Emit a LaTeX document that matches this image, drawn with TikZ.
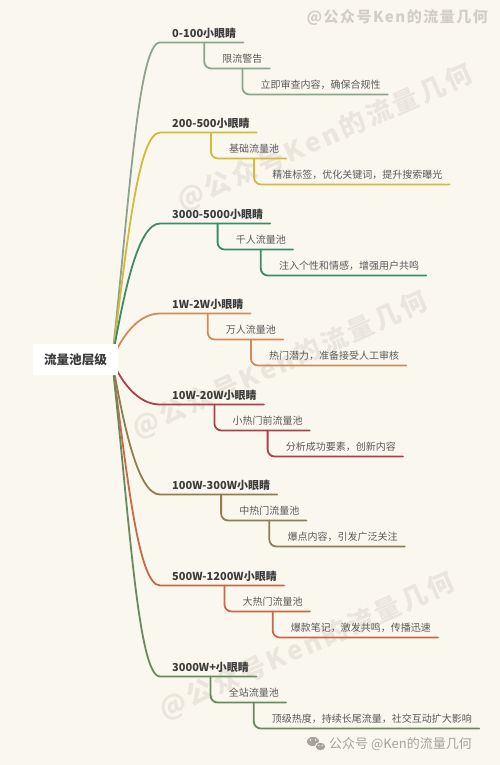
\documentclass[tikz,border=0pt]{standalone}
\usepackage{fontspec}
\setmainfont{Noto Sans CJK SC}
\usetikzlibrary{calc}
\pgfdeclarelayer{wm}
\pgfdeclarelayer{bg}
\pgfsetlayers{wm,bg,main}

\definecolor{bgc}{HTML}{FAF7EE}
\definecolor{cA}{HTML}{8DA58A}
\definecolor{cB}{HTML}{D6B93C}
\definecolor{cC}{HTML}{3F8A68}
\definecolor{cD}{HTML}{CF8C58}
\definecolor{cE}{HTML}{A8434B}
\definecolor{cF}{HTML}{8E7F4F}
\definecolor{cG}{HTML}{C76847}
\definecolor{cH}{HTML}{6A8A5D}
\definecolor{toptext}{HTML}{3C3C3C}
\definecolor{subtext}{HTML}{5A5A5A}
\definecolor{wmfaint}{HTML}{EAE6DD}
\definecolor{wmtop}{HTML}{D3CFC7}
\definecolor{wmbottom}{HTML}{A7A39C}

\tikzset{
  lvlone/.style={font=\fontsize{11}{13}\selectfont\bfseries, text=toptext, inner sep=0pt, anchor=west},
  lvltwo/.style={font=\fontsize{10}{12}\selectfont, text=subtext, inner sep=0pt, anchor=west},
  branchline/.style={line width=1.8pt, line cap=round},
  rootbox/.style={fill=white, minimum width=85pt, minimum height=31pt, inner sep=0pt,
    rounded corners=1.5pt, font=\fontsize{12.6}{14}\selectfont\bfseries, text=toptext},
  diagmark/.style={font=\fontsize{26}{28}\selectfont\bfseries\addfontfeature{LetterSpace=12},
    text=wmfaint, rotate=24, inner sep=0pt},
}

\newcommand\mmbranch[6]{%
  \node[lvlone] (#1a) at (172,#3) {#4};
  \node[lvltwo] (#1b) at ($(#1a.center)+(18,26)$) {#5};
  \node[lvltwo] (#1c) at ($(#1b.center)+(18,26)$) {#6};
  \coordinate (#1u) at (160,{#3+9.5});
  \pgfmathsetmacro\mmdy{#3+9.5-360}%
  \pgfmathsetmacro\mmcx{8+0.03*abs(\mmdy)}%
  \pgfmathsetmacro\mmcy{0.5*\mmdy}%
  \begin{pgfonlayer}{bg}
    \draw[branchline, draw=#2] (rootc) .. controls +(\mmcx,\mmcy) and +(-22,0) .. (#1u)
      -- ($(#1a.east)+(7,9.5)$);
  \end{pgfonlayer}
  \draw[branchline, draw=#2, rounded corners=7pt] ($(#1a.center)+(0,9.5)$) |- ($(#1b.east)+(7,9.5)$);
  \draw[branchline, draw=#2, rounded corners=7pt] ($(#1b.center)+(0,9.5)$) |- ($(#1c.east)+(7,9.5)$);
}

\begin{document}
\begin{tikzpicture}[x=1pt, y=-1pt]
\begin{pgfonlayer}{wm}
  \fill[bgc] (0,0) rectangle (500,765);
  \node[diagmark] (wm1) at (325,138) {@公众号Ken的流量几何};
  \node[diagmark] (wm2) at (280,365) {@公众号Ken的流量几何};
  \node[diagmark] (wm3) at (307,646) {@公众号Ken的流量几何};
\end{pgfonlayer}
\useasboundingbox (0,0) rectangle (500,765);

\node[anchor=east, inner sep=0pt, text=wmtop,
  font=\fontsize{15}{17}\selectfont\bfseries\addfontfeature{LetterSpace=10}] (wmt) at (488,17) {@公众号Ken的流量几何};

\node[rootbox] (root) at (75.5,359.5) {流量池层级};
\coordinate (rootc) at (112,360);

\mmbranch{a}{cA}{33}{0-100小眼睛}{限流警告}{立即审查内容，确保合规性}
\mmbranch{b}{cB}{123}{200-500小眼睛}{基础流量池}{精准标签，优化关键词，提升搜索曝光}
\mmbranch{c}{cC}{214}{3000-5000小眼睛}{千人流量池}{注入个性和情感，增强用户共鸣}
\mmbranch{d}{cD}{304}{1W-2W小眼睛}{万人流量池}{热门潜力，准备接受人工审核}
\mmbranch{e}{cE}{395}{10W-20W小眼睛}{小热门前流量池}{分析成功要素，创新内容}
\mmbranch{f}{cF}{485}{100W-300W小眼睛}{中热门流量池}{爆点内容，引发广泛关注}
\mmbranch{g}{cG}{576}{500W-1200W小眼睛}{大热门流量池}{爆款笔记，激发共鸣，传播迅速}
\mmbranch{h}{cH}{667}{3000W+小眼睛}{全站流量池}{顶级热度，持续长尾流量，社交互动扩大影响}

% bottom signature with chat icon
\fill[wmbottom, draw=bgc, line width=0.8pt] (313,741.5) ellipse [x radius=6.5pt, y radius=5.2pt];
\fill[wmbottom, draw=bgc, line width=0.8pt] (320.5,746.5) ellipse [x radius=5.2pt, y radius=4.3pt];
\fill[bgc] (310.5,740) circle [radius=0.8pt] (315.5,740) circle [radius=0.8pt]
  (318.7,745.5) circle [radius=0.6pt] (322.3,745.5) circle [radius=0.6pt];
\node[anchor=west, inner sep=0pt, text=wmbottom, font=\fontsize{13}{15}\selectfont]
  (wmb) at (329,744) {公众号 @Ken的流量几何};
\end{tikzpicture}
\end{document}
